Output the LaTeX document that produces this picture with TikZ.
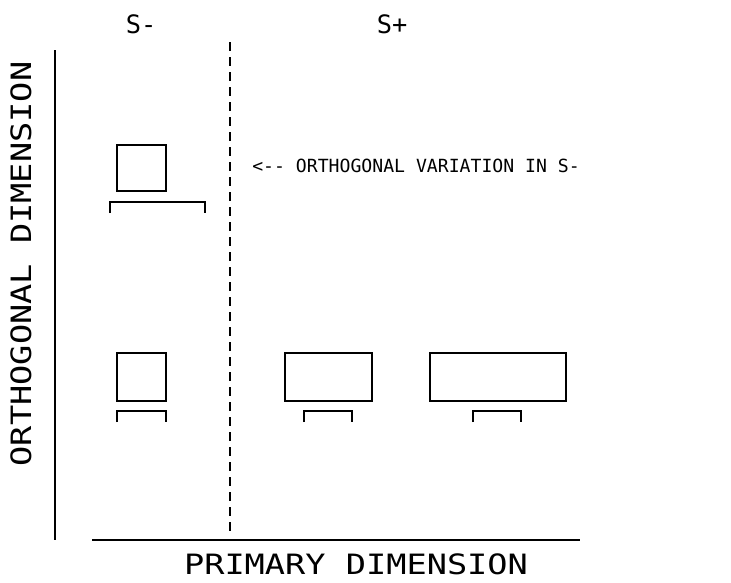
\documentclass[tikz,border=0pt]{standalone}
\usepackage{fontspec}
\setmonofont{DejaVu Sans Mono}
\begin{document}
\begin{tikzpicture}[x=0.75pt,y=-0.75pt,
  box/.style={draw,line width=2pt,inner sep=0pt},
  brk/.style={line width=2pt},
  axis/.style={line width=1.3pt},
  big/.style={font=\ttfamily\fontsize{21}{25}\selectfont,inner sep=0pt},
  mid/.style={font=\ttfamily\fontsize{19}{23}\selectfont,inner sep=0pt},
  small/.style={font=\ttfamily\fontsize{13.6}{16}\selectfont,inner sep=0pt}]
\useasboundingbox (0,0) rectangle (731,582);
% axes
\coordinate (yaxT) at (55,50);
\coordinate (yaxB) at (55,540);
\coordinate (xaxL) at (92,540);
\coordinate (xaxR) at (580,540);
\draw[axis] (yaxT) -- (yaxB);
\draw[axis] (xaxL) -- (xaxR);
% dividing line between S- and S+
\coordinate (divT) at (230,42);
\coordinate (divB) at (230,533);
\draw[line width=1.3pt,dash pattern=on 6.75pt off 4.5pt] (divT) -- (divB);
% labels
\node[mid] (sminus) at (141,24) {S-};
\node[mid] (splus) at (392,24) {S+};
\node[big] (xlab) at (356,564) {\scalebox{1.2}[1]{PRIMARY DIMENSION}};
\node[big,rotate=90] (ylab) at (21,264) {\scalebox{1.2}[1]{ORTHOGONAL DIMENSION}};
\node[small,anchor=west] (note) at (252,166) {<-- ORTHOGONAL VARIATION IN S-};
% stimuli
\node[box,minimum width=36.75pt,minimum height=34.5pt] (top) at (141.5,168) {};
\node[box,minimum width=36.75pt,minimum height=36pt] (b1) at (141.5,377) {};
\node[box,minimum width=65.25pt,minimum height=36pt] (b2) at (328.5,377) {};
\node[box,minimum width=102pt,minimum height=36pt] (b3) at (498,377) {};
% range brackets
\draw[brk] (110,213) -- (110,202) -- (205,202) -- (205,213);
\draw[brk] (117,422) -- (117,411) -- (166,411) -- (166,422);
\draw[brk] (304,422) -- (304,411) -- (352,411) -- (352,422);
\draw[brk] (473,422) -- (473,411) -- (521,411) -- (521,422);
\end{tikzpicture}
\end{document}
